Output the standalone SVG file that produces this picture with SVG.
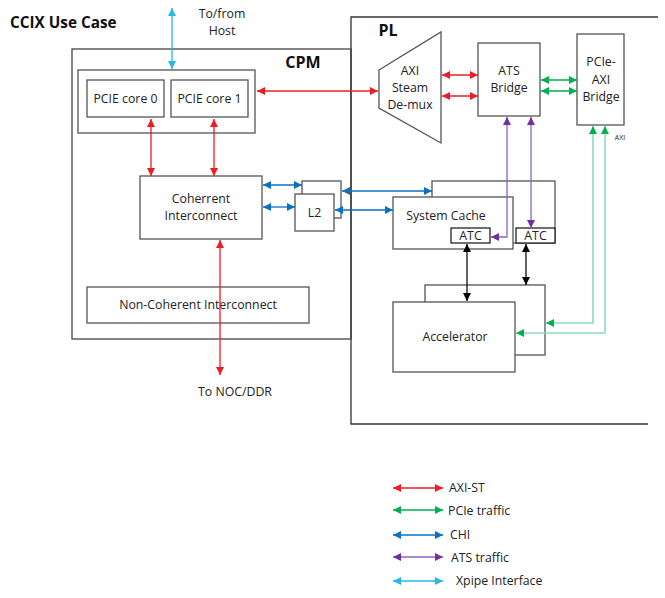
<svg xmlns="http://www.w3.org/2000/svg" width="665" height="598" viewBox="0 0 665 598">
<style>
text{font-family:"Open Sans","Noto Sans","Liberation Sans",sans-serif;fill:#222;font-size:12.3px}
.c{text-anchor:middle}
.b{font-weight:bold;fill:#111}
.box{fill:#fff;stroke:#555;stroke-width:1.3}
.ln{fill:none;stroke-width:1.3}
.red{stroke:#ee1c24}
.grn{stroke:#00b050}
.lgr{stroke:#8fdcb8;stroke-width:1.6}
.blu{stroke:#0a70c0}
.pur{stroke:#8a63c0}
.cyn{stroke:#29b6e8}
.blk{stroke:#111}
</style>
<defs>
<marker id="mr" viewBox="0 0 10 10" refX="10" refY="5" markerWidth="9" markerHeight="8" markerUnits="userSpaceOnUse" orient="auto-start-reverse"><path d="M0,0L10,5L0,10z" fill="#ee1c24"/></marker>
<marker id="mg" viewBox="0 0 10 10" refX="10" refY="5" markerWidth="9" markerHeight="8" markerUnits="userSpaceOnUse" orient="auto-start-reverse"><path d="M0,0L10,5L0,10z" fill="#00b050"/></marker>
<marker id="mb" viewBox="0 0 10 10" refX="10" refY="5" markerWidth="9" markerHeight="8" markerUnits="userSpaceOnUse" orient="auto-start-reverse"><path d="M0,0L10,5L0,10z" fill="#0a70c0"/></marker>
<marker id="mp" viewBox="0 0 10 10" refX="10" refY="5" markerWidth="9" markerHeight="8" markerUnits="userSpaceOnUse" orient="auto-start-reverse"><path d="M0,0L10,5L0,10z" fill="#7030a0"/></marker>
<marker id="mc" viewBox="0 0 10 10" refX="10" refY="5" markerWidth="9" markerHeight="8" markerUnits="userSpaceOnUse" orient="auto-start-reverse"><path d="M0,0L10,5L0,10z" fill="#29b6e8"/></marker>
<marker id="mk" viewBox="0 0 10 10" refX="10" refY="5" markerWidth="9" markerHeight="8" markerUnits="userSpaceOnUse" orient="auto-start-reverse"><path d="M0,0L10,5L0,10z" fill="#000"/></marker>
</defs>
<rect width="665" height="598" fill="#fff"/>
<text x="10" y="28" class="b" style="font-size:15.3px">CCIX Use Case</text>
<text x="222" y="18" class="c">To/from</text>
<text x="222" y="35" class="c">Host</text>
<text x="235" y="396" class="c">To NOC/DDR</text>

<g id="cpm">
<rect x="72" y="49" width="279" height="290" fill="none" stroke="#444" stroke-width="1.3"/>
<text x="303" y="68" class="b c" style="font-size:16px">CPM</text>
</g>
<g id="pl">
<path d="M658,17H351V424H648" fill="none" stroke="#333" stroke-width="1.3"/>
<text x="388" y="36" class="b c" style="font-size:16px">PL</text>
</g>
<g id="pcie-group"><rect x="78" y="70" width="177" height="63" class="box"/></g>
<g id="pcie-core-0"><rect x="87" y="80" width="77" height="37" class="box"/><text x="125.5" y="103" class="c">PCIE core 0</text></g>
<g id="pcie-core-1"><rect x="171" y="80" width="77" height="37" class="box"/><text x="209.5" y="103" class="c">PCIE core 1</text></g>
<g id="coherent-interconnect"><rect x="140" y="176" width="122" height="63" class="box"/><text x="201" y="203" class="c">Coherrent</text><text x="201" y="220" class="c">Interconnect</text></g>
<g id="non-coherent-interconnect"><rect x="87" y="287" width="222" height="36" class="box"/><text x="198" y="309" class="c">Non-Coherent Interconnect</text></g>
<g id="l2"><rect x="302" y="181" width="39" height="37" class="box"/><rect x="295" y="194" width="39" height="37" class="box"/><text x="314.5" y="217" class="c">L2</text></g>
<g id="axi-demux"><path d="M379,70L441,32V143L379,108z" class="box"/><text x="410" y="75" class="c">AXI</text><text x="410" y="92" class="c">Steam</text><text x="410" y="109" class="c">De-mux</text></g>
<g id="ats-bridge"><rect x="478" y="43" width="62" height="73" class="box"/><text x="509" y="75" class="c">ATS</text><text x="509" y="92" class="c">Bridge</text></g>
<g id="pcie-axi-bridge"><rect x="577" y="34" width="47" height="91" class="box"/><text x="601" y="66" class="c">PCIe-</text><text x="601" y="84" class="c">AXI</text><text x="601" y="101" class="c">Bridge</text><text x="620" y="140" class="c" style="font-size:7px">AXI</text></g>
<g id="system-cache">
<rect x="432" y="181" width="123" height="62" class="box"/>
<rect x="516" y="228" width="39" height="15" fill="#fff" stroke="#222" stroke-width="1.3"/>
<text x="535.5" y="240" class="c">ATC</text>
<rect x="393" y="197" width="120" height="52" class="box"/>
<text x="446" y="220" class="c">System Cache</text>
<rect x="451" y="228" width="39" height="15" fill="#fff" stroke="#222" stroke-width="1.3"/>
<text x="470.5" y="240" class="c">ATC</text>
</g>
<g id="accelerator"><rect x="425" y="285" width="120" height="70" class="box"/><rect x="393" y="302" width="122" height="70" class="box"/><text x="455" y="341" class="c">Accelerator</text></g>

<g id="connectors">
<line x1="172" y1="8" x2="172" y2="69" class="ln cyn" marker-start="url(#mc)" marker-end="url(#mc)"/>
<line x1="378" y1="91" x2="257" y2="91" class="ln red" marker-start="url(#mr)" marker-end="url(#mr)"/>
<line x1="151" y1="119" x2="151" y2="176" class="ln red" marker-start="url(#mr)" marker-end="url(#mr)"/>
<line x1="214" y1="119" x2="214" y2="176" class="ln red" marker-start="url(#mr)" marker-end="url(#mr)"/>
<line x1="220" y1="240" x2="220" y2="375" class="ln red" marker-start="url(#mr)" marker-end="url(#mr)"/>
<line x1="442" y1="75" x2="478" y2="75" class="ln red" marker-start="url(#mr)" marker-end="url(#mr)"/>
<line x1="442" y1="96" x2="478" y2="96" class="ln red" marker-start="url(#mr)" marker-end="url(#mr)"/>
<line x1="541" y1="80" x2="577" y2="80" class="ln grn" marker-start="url(#mg)" marker-end="url(#mg)"/>
<line x1="541" y1="91" x2="577" y2="91" class="ln grn" marker-start="url(#mg)" marker-end="url(#mg)"/>
<line x1="263" y1="185" x2="302" y2="185" class="ln blu" marker-start="url(#mb)" marker-end="url(#mb)"/>
<line x1="263" y1="207" x2="295" y2="207" class="ln blu" marker-start="url(#mb)" marker-end="url(#mb)"/>
<line x1="342" y1="191" x2="432" y2="191" class="ln blu" marker-start="url(#mb)" marker-end="url(#mb)"/>
<line x1="335" y1="210" x2="393" y2="210" class="ln blu" marker-start="url(#mb)" marker-end="url(#mb)"/>
<path d="M507,117V237H491" class="ln pur" marker-start="url(#mp)" marker-end="url(#mp)"/>
<line x1="531" y1="117" x2="531" y2="228" class="ln pur" marker-start="url(#mp)" marker-end="url(#mp)"/>
<line x1="467" y1="244" x2="467" y2="301" class="ln blk" marker-start="url(#mk)" marker-end="url(#mk)"/>
<line x1="526" y1="244" x2="526" y2="285" class="ln blk" marker-start="url(#mk)" marker-end="url(#mk)"/>
<path d="M593,126V323H546" class="ln lgr" marker-start="url(#mg)" marker-end="url(#mg)"/>
<path d="M605,126V333H516" class="ln lgr" marker-start="url(#mg)" marker-end="url(#mg)"/>
</g>

<g id="legend">
<line x1="393" y1="488" x2="443" y2="488" class="ln red" marker-start="url(#mr)" marker-end="url(#mr)"/>
<text x="449" y="492">AXI-ST</text>
<line x1="393" y1="510" x2="443" y2="510" class="ln grn" marker-start="url(#mg)" marker-end="url(#mg)"/>
<text x="448" y="515">PCIe traffic</text>
<line x1="393" y1="535" x2="443" y2="535" class="ln blu" marker-start="url(#mb)" marker-end="url(#mb)"/>
<text x="450" y="539">CHI</text>
<line x1="393" y1="557" x2="443" y2="557" class="ln pur" marker-start="url(#mp)" marker-end="url(#mp)"/>
<text x="451" y="562">ATS traffic</text>
<line x1="393" y1="581" x2="443" y2="581" class="ln cyn" marker-start="url(#mc)" marker-end="url(#mc)"/>
<text x="456" y="585">Xpipe Interface</text>
</g>
</svg>
